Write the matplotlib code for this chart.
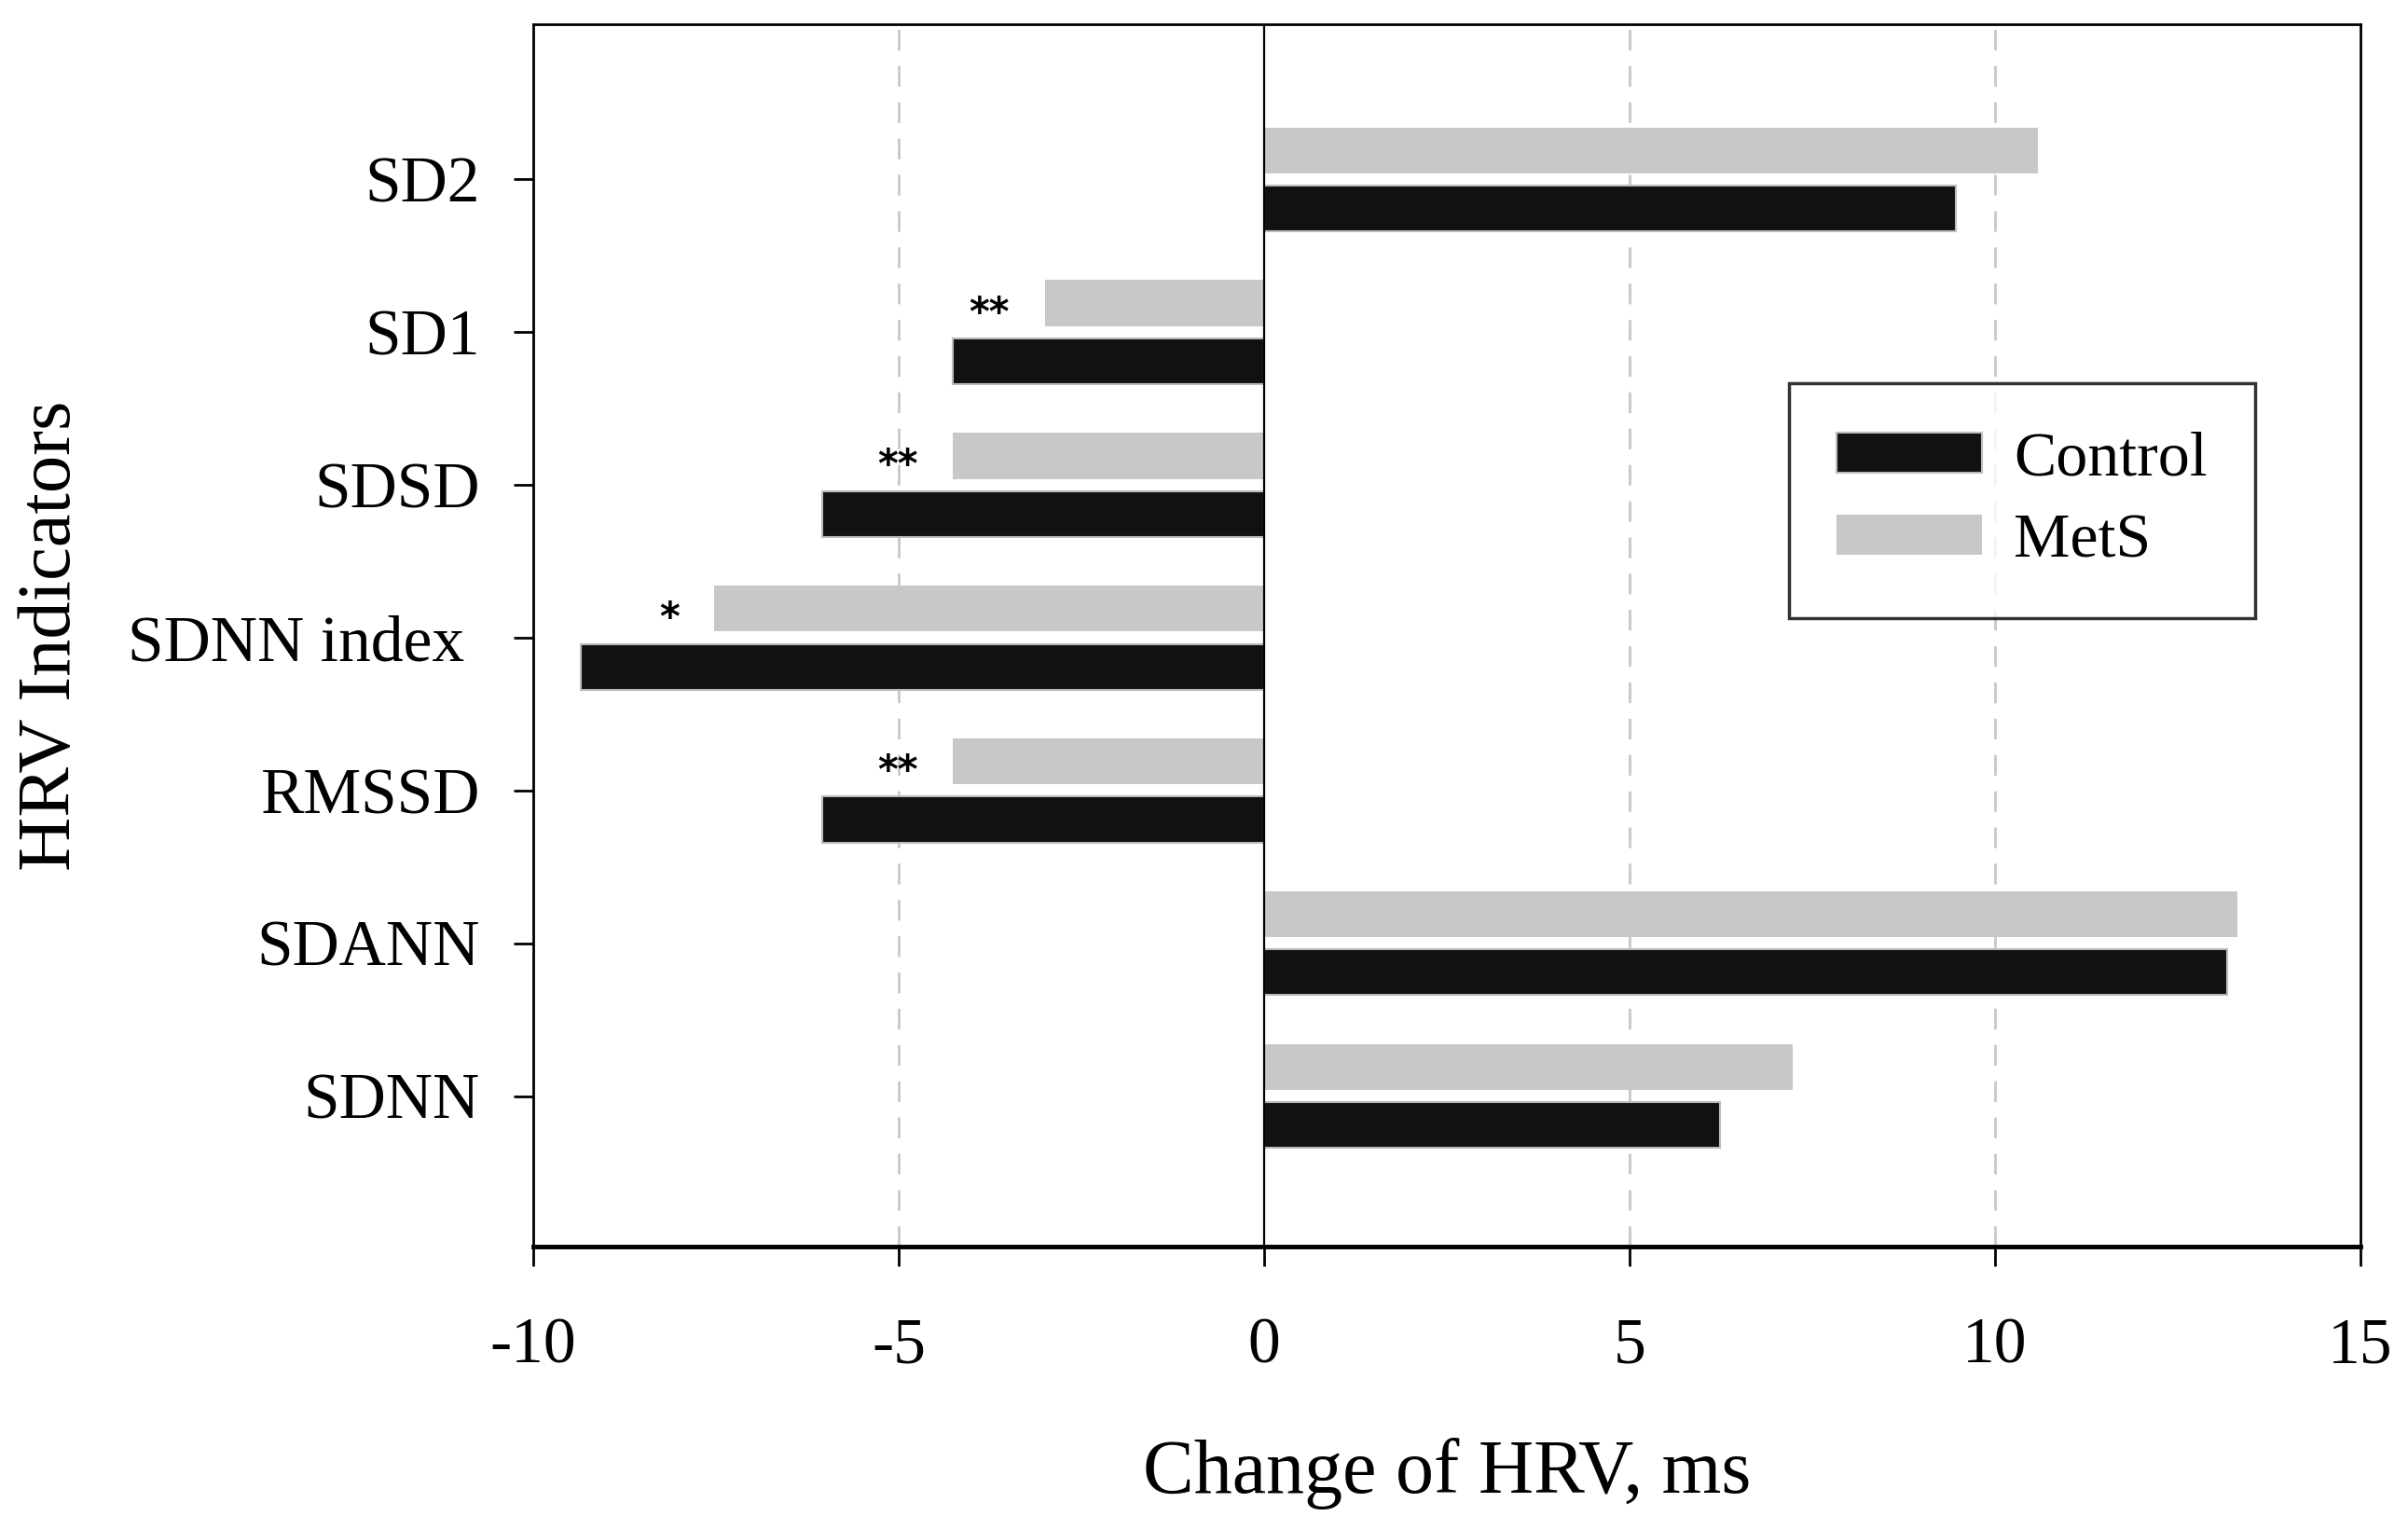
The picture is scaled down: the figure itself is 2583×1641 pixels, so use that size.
import numpy as np
import matplotlib
matplotlib.use("Agg")
import matplotlib.pyplot as plt

# change of HRV indicators, ms
indicators = ["SDNN", "SDANN", "RMSSD", "SDNN index ", "SDSD", "SD1", "SD2"]
control = [6.24, 13.17, -6.05, -9.35, -6.05, -4.26, 9.47]
mets = [7.23, 13.32, -4.26, -7.52, -4.26, -3.0, 10.59]
signif = ["", "", "**", "*", "**", "**", ""]
xticks = [-10, -5, 0, 5, 10, 15]

plt.rcParams["font.family"] = ["Liberation Serif", "DejaVu Serif"]

fig = plt.figure(figsize=(25.83, 16.41), dpi=100)
ax = fig.add_axes([572 / 2583, 1 - 1337 / 1641, (2532 - 572) / 2583, (1337 - 26) / 1641])

y = np.arange(len(indicators))
h = 0.3
off = 0.19

# dashed grid + zero line
for xv in [-5, 5, 10]:
    ax.axvline(xv, color="#c8c8c8", lw=2, ls=(0, (8, 6)), zorder=0)
ax.axvline(0, color="black", lw=1.6, zorder=3)

ax.barh(y - off, control, height=h, color="#111111", edgecolor="#bbbbbb",
        linewidth=1.5, label="Control", zorder=2)
ax.barh(y + off, mets, height=h, color="#c8c8c8", edgecolor="none",
        label="MetS", zorder=2)

for yi, v, s in zip(y, mets, signif):
    if s:
        ax.text(v - 0.48, yi + off - 0.07, s, ha="right", va="center",
                fontsize=30, fontweight="bold", family="DejaVu Sans")

ax.set_xlim(-10, 15)
ax.set_ylim(-0.985, 7.015)
ax.set_xticks(xticks)
ax.set_xticklabels([str(t) for t in xticks])
ax.set_yticks(y)
ax.set_yticklabels(indicators)
ax.tick_params(axis="both", direction="out", length=15, width=2,
               labelsize=50)
ax.tick_params(axis="y", pad=26)
ax.tick_params(axis="x", pad=40)
for sp in ax.spines.values():
    sp.set_linewidth(2)
ax.spines["bottom"].set_linewidth(3.5)

ax.set_xlabel("Change of HRV, ms", fontsize=59, labelpad=47)
ax.set_ylabel("HRV Indicators", fontsize=58, labelpad=32)

leg = ax.legend(loc="upper left", bbox_to_anchor=(0.687, 0.706),
                borderaxespad=0, fontsize=49, frameon=True, fancybox=False,
                handlelength=2.3, handleheight=0.6, borderpad=0.75,
                labelspacing=0.4, handletextpad=0.5)
leg.get_frame().set_edgecolor("black")
leg.get_frame().set_linewidth(2.5)

fig.savefig("out.png", dpi=100)
